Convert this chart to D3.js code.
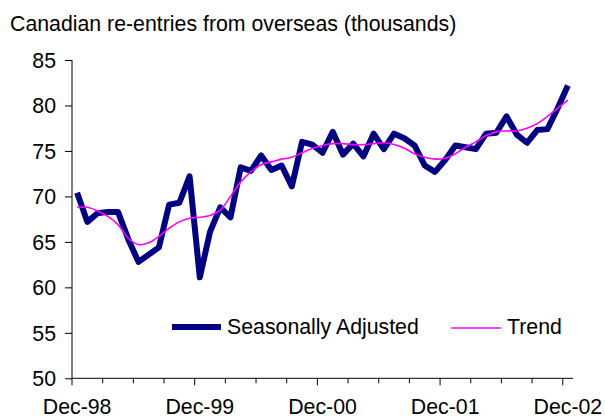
<!DOCTYPE html>
<html>
<title>Canadian re-entries</title>
<meta charset="UTF-8">
<script type="text/javascript" src="https://d3js.org/d3.v7.min.js"></script>
<style type="text/css">
	body { margin:0; background:white; }
	text { font-family: "Liberation Sans", Arial, sans-serif; fill:black; }
</style>
<body>
<svg id="viz"></svg>
<script type="text/javascript">

	// months Dec-98 .. Dec-02
	var months = d3.timeMonth.range(new Date(1998, 11, 1), new Date(2003, 0, 1));
	var tickLabels = ["Dec-98", "Dec-99", "Dec-00", "Dec-01", "Dec-02"];
	var yTicks = [50, 55, 60, 65, 70, 75, 80, 85];

	var seasonallyAdjusted = [
		70.4, 67.2, 68.15, 68.3, 68.3, 65.3, 62.8, 63.6, 64.4, 69.1,
		69.3, 72.2, 61.1, 66.1, 68.8, 67.7, 73.2, 72.8, 74.5, 72.9,
		73.4, 71.1, 76.0, 75.7, 74.8, 77.1, 74.6, 75.8, 74.4, 76.9,
		75.2, 76.9, 76.4, 75.6, 73.4, 72.7, 74.0, 75.6, 75.4, 75.2,
		76.9, 77.0, 78.8, 76.8, 75.9, 77.3, 77.4, 79.7, 82.2
	];
	var trend = [
		68.8, 68.8, 68.4, 67.8, 66.9, 65.4, 64.7, 64.9, 65.6, 66.5,
		67.2, 67.6, 67.7, 67.9, 68.5, 70.0, 71.6, 72.7, 73.5, 73.8,
		74.1, 74.3, 74.8, 75.3, 75.6, 75.8, 75.8, 75.7, 75.7, 75.8,
		75.9, 75.7, 75.3, 74.7, 74.3, 74.1, 74.2, 74.7, 75.4, 76.0,
		76.7, 77.1, 77.2, 77.2, 77.5, 78.0, 78.8, 79.7, 80.6
	];

	var fmt = d3.timeFormat("%b-%y");
	var cats = months.map(fmt);
	var fs = "21.3px";

	var W = 605, H = 416;
	var svg = d3.select("#viz").attr("width", W).attr("height", H);

	var xScale = d3.scaleBand().domain(cats).range([72, 573]);
	var yScale = d3.scaleLinear().domain([50, 85]).range([378.3, 60]);

	// title
	svg.append("text")
		.attr("x", 10).attr("y", 31)
		.style("font-size", fs)
		.text("Canadian re-entries from overseas (thousands)");

	// y axis
	var yAxis = d3.axisLeft(yScale).tickValues(yTicks).tickSize(7).tickPadding(9).tickFormat(d3.format("d"));
	var gy = svg.append("g").attr("transform", "translate(72,0)").call(yAxis);
	gy.selectAll("text").style("font-size", fs).attr("dy", "0.35em");
	gy.select(".domain").attr("d", "M0," + yScale(85) + "V" + yScale(50));

	// x axis: ticks on category boundaries every 3 months, longer at Dec
	var step = xScale.step();
	var gx = svg.append("g").attr("transform", "translate(0," + yScale(50) + ")");
	gx.append("line")
		.attr("x1", 72).attr("x2", 573)
		.attr("stroke", "black");
	var bounds = d3.range(0, cats.length, 3);
	gx.selectAll("line.tk").data(bounds).enter().append("line")
		.attr("class", "tk")
		.attr("x1", function(d){ return xScale(cats[d]); })
		.attr("x2", function(d){ return xScale(cats[d]); })
		.attr("y1", 0)
		.attr("y2", function(d){ return d % 12 == 0 ? 7 : 5; })
		.attr("stroke", "black");
	gx.selectAll("text").data(tickLabels).enter().append("text")
		.attr("x", function(d){ return xScale(d) + step / 2; })
		.attr("y", 36)
		.attr("text-anchor", "middle")
		.style("font-size", fs)
		.text(function(d){ return d; });

	var cx = function(d, i){ return xScale(cats[i]) + step / 2; };

	var lineSA = d3.line().x(cx).y(function(d){ return yScale(d); });
	var lineTrend = d3.line().x(cx).y(function(d){ return yScale(d); }).curve(d3.curveCatmullRom);

	svg.append("path")
		.datum(seasonallyAdjusted)
		.attr("d", lineSA)
		.attr("fill", "none")
		.attr("stroke", "#000080")
		.attr("stroke-width", 6)
		.attr("stroke-linejoin", "round");

	svg.append("path")
		.datum(trend)
		.attr("d", lineTrend)
		.attr("fill", "none")
		.attr("stroke", "#FF00FF")
		.attr("stroke-width", 1.6);

	// legend
	var legend = svg.append("g");
	legend.append("line")
		.attr("x1", 172).attr("x2", 221).attr("y1", 327).attr("y2", 327)
		.attr("stroke", "#000080").attr("stroke-width", 6);
	legend.append("text")
		.attr("x", 227).attr("y", 334)
		.style("font-size", fs)
		.text("Seasonally Adjusted");
	legend.append("line")
		.attr("x1", 451).attr("x2", 501).attr("y1", 328).attr("y2", 328)
		.attr("stroke", "#FF00FF").attr("stroke-width", 1.6);
	legend.append("text")
		.attr("x", 507).attr("y", 334)
		.style("font-size", fs)
		.text("Trend");

</script>
</body>
</html>
